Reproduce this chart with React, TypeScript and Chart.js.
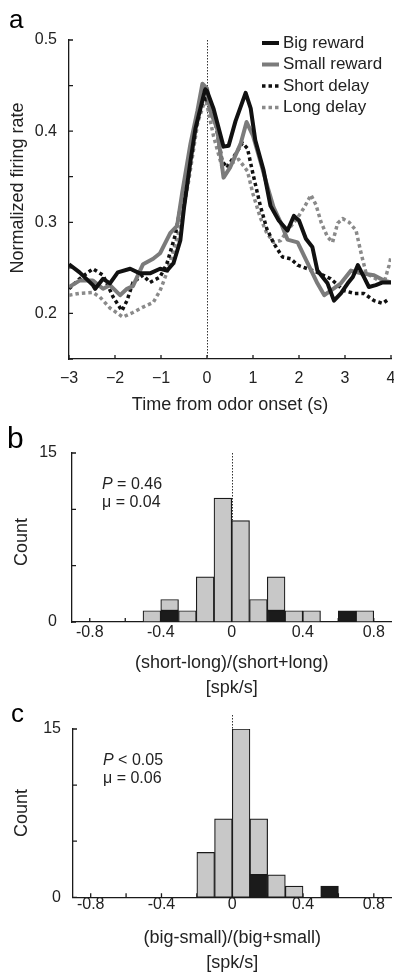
import React, { useEffect, useRef } from 'react';
import { Chart, registerables } from 'chart.js';

Chart.register(...registerables);

const FONT = "'Liberation Sans', Arial, Helvetica, sans-serif";
const INK = '#1a1a1a';

// ---------------- Panel a: firing-rate time courses ----------------
const bigRewardT = [-3.0, -2.77, -2.48, -2.43, -2.26, -2.11, -1.94, -1.67, -1.46, -1.24, -1.02, -0.87, -0.73, -0.58, -0.5, -0.36, -0.25, -0.04, 0.0, 0.14, 0.36, 0.47, 0.62, 0.84, 0.95, 1.05, 1.23, 1.38, 1.56, 1.75, 1.89, 2.0, 2.15, 2.29, 2.4, 2.62, 2.76, 2.91, 3.06, 3.17, 3.28, 3.41, 3.52, 3.67, 3.82, 4.0];
const bigRewardV = [0.254, 0.245, 0.231, 0.227, 0.238, 0.233, 0.245, 0.249, 0.244, 0.244, 0.249, 0.247, 0.255, 0.28, 0.316, 0.367, 0.403, 0.446, 0.444, 0.425, 0.383, 0.384, 0.411, 0.442, 0.425, 0.39, 0.357, 0.318, 0.302, 0.291, 0.307, 0.302, 0.282, 0.273, 0.247, 0.233, 0.214, 0.222, 0.233, 0.24, 0.253, 0.24, 0.229, 0.231, 0.234, 0.234];

const smallRewardT = [-3.0, -2.77, -2.48, -2.26, -2.11, -1.89, -1.74, -1.61, -1.39, -1.17, -1.02, -0.8, -0.65, -0.54, -0.36, -0.21, -0.1, 0.0, 0.07, 0.22, 0.36, 0.5, 0.73, 0.86, 1.0, 1.16, 1.32, 1.45, 1.6, 1.75, 1.97, 2.19, 2.4, 2.55, 2.69, 2.91, 3.13, 3.35, 3.63, 3.85, 4.0];
const smallRewardV = [0.229, 0.236, 0.236, 0.227, 0.231, 0.22, 0.227, 0.23, 0.254, 0.26, 0.266, 0.288, 0.296, 0.332, 0.386, 0.422, 0.452, 0.447, 0.422, 0.403, 0.349, 0.36, 0.386, 0.41, 0.395, 0.367, 0.338, 0.316, 0.3, 0.281, 0.278, 0.255, 0.233, 0.22, 0.225, 0.233, 0.247, 0.244, 0.242, 0.236, 0.234];

const shortDelayT = [-3.0, -2.77, -2.48, -2.26, -2.04, -1.85, -1.74, -1.61, -1.39, -1.24, -1.02, -0.87, -0.69, -0.52, -0.32, -0.19, 0.0, 0.18, 0.33, 0.44, 0.62, 0.77, 0.88, 1.0, 1.16, 1.3, 1.45, 1.64, 1.82, 1.97, 2.19, 2.4, 2.69, 2.98, 3.2, 3.41, 3.63, 3.82, 3.96];
const shortDelayV = [0.227, 0.238, 0.249, 0.242, 0.218, 0.203, 0.214, 0.234, 0.242, 0.234, 0.24, 0.255, 0.286, 0.332, 0.381, 0.425, 0.437, 0.411, 0.367, 0.36, 0.375, 0.387, 0.381, 0.353, 0.318, 0.293, 0.277, 0.262, 0.26, 0.253, 0.249, 0.245, 0.238, 0.225, 0.222, 0.222, 0.214, 0.211, 0.216];

const longDelayT = [-3.0, -2.77, -2.48, -2.33, -2.11, -1.83, -1.61, -1.39, -1.17, -1.02, -0.87, -0.73, -0.58, -0.4, -0.2, -0.03, 0.14, 0.33, 0.5, 0.69, 0.88, 1.0, 1.16, 1.3, 1.45, 1.6, 1.75, 1.97, 2.11, 2.26, 2.37, 2.48, 2.62, 2.73, 2.84, 2.95, 3.09, 3.24, 3.35, 3.46, 3.67, 3.85, 3.96, 4.0];
const longDelayV = [0.22, 0.222, 0.223, 0.218, 0.206, 0.196, 0.201, 0.207, 0.212, 0.225, 0.245, 0.269, 0.295, 0.345, 0.41, 0.436, 0.395, 0.36, 0.364, 0.369, 0.356, 0.331, 0.305, 0.288, 0.278, 0.28, 0.291, 0.305, 0.316, 0.33, 0.319, 0.3, 0.284, 0.278, 0.299, 0.304, 0.3, 0.291, 0.266, 0.244, 0.238, 0.234, 0.253, 0.262];

const seriesLabels = ['Big reward', 'Small reward', 'Short delay', 'Long delay'];
const timeTicks = [-3, -2, -1, 0, 1, 2, 3, 4];
const rateTicks = [0.15, 0.2, 0.25, 0.3, 0.35, 0.4, 0.45, 0.5];

// ---------------- Panel b: short vs long delay index ----------------
const binCentersB = [-0.45, -0.35, -0.25, -0.15, -0.05, 0.05, 0.15, 0.25, 0.35, 0.45, 0.65, 0.75];
const grayCountsB = [1, 1, 1, 4, 11, 9, 2, 3, 1, 1, 0, 1];
const blackCountsB = [0, 1, 0, 0, 0, 0, 0, 1, 0, 0, 1, 0];
const statsB = { p: '= 0.46', mu: '= 0.04' };

// ---------------- Panel c: big vs small reward index ----------------
const binCentersC = [-0.15, -0.05, 0.05, 0.15, 0.25, 0.35, 0.55];
const grayCountsC = [4, 7, 15, 5, 2, 1, 0];
const blackCountsC = [0, 0, 0, 2, 0, 0, 1];
const statsC = { p: '< 0.05', mu: '= 0.06' };

const indexTicks = [-0.8, -0.6, -0.4, -0.2, 0, 0.2, 0.4, 0.6, 0.8];
const countTicks = [0, 5, 10, 15];

// ---------------- helpers ----------------
const toPoints = (xs: number[], ys: number[]) => xs.map((x, i) => ({ x, y: ys[i] }));
const nonZero = (xs: number[], ys: number[]) => toPoints(xs, ys).filter((p) => p.y > 0);

const decorPlugin = {
  id: 'decor',
  beforeDatasetsDraw(chart: any, _a: any, o: any) {
    const { ctx, chartArea, scales } = chart;
    ctx.save();
    // zero line
    const zx = Math.round(scales.x.getPixelForValue(0)) + 0.5;
    ctx.strokeStyle = '#333';
    ctx.lineWidth = 1;
    ctx.setLineDash([1.5, 1.5]);
    ctx.beginPath();
    ctx.moveTo(zx, chartArea.top - (o.zeroExtra || 0));
    ctx.lineTo(zx, chartArea.bottom);
    ctx.stroke();
    // inward ticks
    ctx.setLineDash([]);
    ctx.strokeStyle = INK;
    ctx.lineWidth = 1.3;
    ctx.beginPath();
    for (const v of o.xTicks) {
      const px = scales.x.getPixelForValue(v);
      ctx.moveTo(px, chartArea.bottom);
      ctx.lineTo(px, chartArea.bottom - o.tickLen);
    }
    for (const v of o.yTicks) {
      const py = scales.y.getPixelForValue(v);
      ctx.moveTo(chartArea.left, py);
      ctx.lineTo(chartArea.left + o.tickLen, py);
    }
    ctx.stroke();
    ctx.restore();
  },
  afterDraw(chart: any, _a: any, o: any) {
    const { ctx, chartArea } = chart;
    ctx.save();
    ctx.fillStyle = '#222';
    // y title
    ctx.font = `18px ${FONT}`;
    ctx.textAlign = 'center';
    ctx.textBaseline = 'middle';
    ctx.save();
    ctx.translate(o.yTitle.x, o.yTitle.y);
    ctx.rotate(-Math.PI / 2);
    ctx.fillText(o.yTitle.text, 0, 0);
    ctx.restore();
    // panel letter
    ctx.fillStyle = '#000';
    ctx.font = `${o.letter.size}px ${FONT}`;
    ctx.textAlign = 'left';
    ctx.textBaseline = 'alphabetic';
    ctx.fillText(o.letter.text, o.letter.x, o.letter.y);
    ctx.fillStyle = '#222';
    // legend
    if (o.legend) {
      const ds = chart.data.datasets;
      ctx.font = `17px ${FONT}`;
      ctx.textBaseline = 'middle';
      ds.forEach((d: any, i: number) => {
        const y = chartArea.top + o.legend.top + i * o.legend.step;
        const x0 = chartArea.right - o.legend.fromRight;
        ctx.save();
        ctx.strokeStyle = d.borderColor;
        ctx.lineWidth = d.borderWidth;
        ctx.setLineDash(d.borderDash || []);
        ctx.beginPath();
        ctx.moveTo(x0, y);
        ctx.lineTo(x0 + 17, y);
        ctx.stroke();
        ctx.restore();
        ctx.fillText(d.label, x0 + 21, y);
      });
    }
    // stats
    if (o.stats) {
      const x = chartArea.left + 30;
      const y1 = chartArea.top + 32;
      const y2 = chartArea.top + 50;
      ctx.textBaseline = 'middle';
      ctx.textAlign = 'left';
      ctx.font = `italic 16px ${FONT}`;
      ctx.fillText('P', x, y1);
      const w = ctx.measureText('P').width;
      ctx.font = `16px ${FONT}`;
      ctx.fillText(' ' + o.stats.p, x + w, y1);
      ctx.fillText('\u03bc ' + o.stats.mu, x, y2);
    }
    ctx.restore();
  },
};

const tickFont = { family: FONT, size: 16 };
const setTicks = (vals: number[]) => (s: any) => {
  s.ticks = vals.map((value) => ({ value }));
};

function makeA(canvas: HTMLCanvasElement) {
  const mk = (label: string, t: number[], v: number[], color: string, width: number, dash: number[]) => ({
    label,
    data: toPoints(t, v),
    borderColor: color,
    backgroundColor: color,
    borderWidth: width,
    borderDash: dash,
    borderJoinStyle: 'round' as const,
    pointRadius: 0,
    tension: 0,
    fill: false,
  });
  return new Chart(canvas, {
    type: 'line',
    data: {
      datasets: [
        mk(seriesLabels[0], bigRewardT, bigRewardV, '#111111', 4, []),
        mk(seriesLabels[1], smallRewardT, smallRewardV, '#7b7b7b', 4, []),
        mk(seriesLabels[2], shortDelayT, shortDelayV, '#111111', 3.5, [3.5, 3]),
        mk(seriesLabels[3], longDelayT, longDelayV, '#8a8a8a', 3.5, [3.5, 3]),
      ],
    },
    options: {
      animation: false,
      responsive: false,
      devicePixelRatio: 1,
      events: [],
      layout: { padding: { top: 40, right: 3, left: 0, bottom: 0 } },
      plugins: {
        legend: { display: false },
        tooltip: { enabled: false },
        decor: {
          xTicks: timeTicks,
          yTicks: rateTicks,
          tickLen: 4,
          zeroExtra: 0,
          yTitle: { text: 'Normalized firing rate', x: 18, y: 188 },
          letter: { text: 'a', x: 9, y: 28, size: 26 },
          legend: { top: 3, step: 21.5, fromRight: 129 },
        },
      } as any,
      scales: {
        x: {
          type: 'linear',
          min: -3,
          max: 4,
          grid: { display: false, drawTicks: false },
          border: { display: true, color: INK, width: 1.3 },
          afterBuildTicks: setTicks(timeTicks),
          ticks: {
            autoSkip: false,
            maxRotation: 0,
            padding: 10,
            color: '#222',
            font: tickFont,
            callback: (v: any) => (v < 0 ? '\u2212' + Math.abs(v) : String(v)),
          },
          title: {
            display: true,
            text: 'Time from odor onset (s)',
            color: '#222',
            font: { family: FONT, size: 18, lineHeight: 1.2 },
            padding: { top: 0, bottom: 4 },
          },
          afterFit: (s: any) => {
            s.height = 61;
            s.paddingLeft = 0;
            s.paddingRight = 0;
          },
        },
        y: {
          min: 0.15,
          max: 0.5,
          grid: { display: false, drawTicks: false },
          border: { display: true, color: INK, width: 1.3 },
          afterBuildTicks: setTicks(rateTicks),
          ticks: {
            autoSkip: false,
            padding: 12,
            color: '#222',
            font: tickFont,
            callback: (v: any) => {
              const r = Math.round(v * 100);
              return r % 10 === 0 && r >= 20 ? (r / 100).toFixed(1) : '';
            },
          },
          afterFit: (s: any) => {
            s.width = 69;
          },
        },
      },
    },
    plugins: [decorPlugin as any],
  });
}

function makeHist(
  canvas: HTMLCanvasElement,
  centers: number[],
  grays: number[],
  blacks: number[],
  opts: any
) {
  return new Chart(canvas, {
    type: 'bar',
    data: {
      datasets: [
        {
          label: 'black',
          data: nonZero(centers, blacks),
          backgroundColor: '#1b1b1b',
          borderColor: INK,
          borderWidth: 1.2,
          borderSkipped: false,
          barPercentage: 1,
          categoryPercentage: 1,
        },
        {
          label: 'gray',
          data: nonZero(centers, grays),
          backgroundColor: '#c8c8c8',
          borderColor: INK,
          borderWidth: 1.2,
          borderSkipped: false,
          barPercentage: 1,
          categoryPercentage: 1,
        },
      ],
    },
    options: {
      animation: false,
      responsive: false,
      devicePixelRatio: 1,
      events: [],
      layout: { padding: { top: opts.padTop, right: 2.5, left: 0, bottom: 0 } },
      plugins: {
        legend: { display: false },
        tooltip: { enabled: false },
        decor: {
          xTicks: indexTicks,
          yTicks: countTicks,
          tickLen: 4,
          zeroExtra: opts.zeroExtra,
          yTitle: { text: 'Count', x: 22, y: opts.countY },
          letter: opts.letter,
          stats: opts.stats,
        },
      } as any,
      scales: {
        x: {
          type: 'linear',
          min: -0.9,
          max: 0.9,
          offset: false,
          stacked: true,
          grid: { display: false, drawTicks: false, offset: false },
          border: { display: true, color: INK, width: 1.3 },
          afterBuildTicks: setTicks(indexTicks),
          ticks: {
            autoSkip: false,
            maxRotation: 0,
            padding: opts.xPad,
            color: '#222',
            font: tickFont,
            callback: (v: any) => {
              const r = Math.round(v * 10);
              if (Math.abs(r) > 8 || r % 4 !== 0) return '';
              return r === 0 ? '0' : (r / 10).toFixed(1);
            },
          },
          title: {
            display: true,
            text: [opts.title, '[spk/s]'],
            color: '#222',
            font: { family: FONT, size: 18, lineHeight: 1.4 },
            padding: { top: 0, bottom: 0 },
          },
          afterFit: (s: any) => {
            s.height = opts.xHeight;
            s.paddingLeft = 0;
            s.paddingRight = 0;
          },
        },
        y: {
          min: 0,
          max: 15,
          stacked: true,
          grid: { display: false, drawTicks: false },
          border: { display: true, color: INK, width: 1.3 },
          afterBuildTicks: setTicks(countTicks),
          ticks: {
            autoSkip: false,
            padding: opts.yPad,
            color: '#222',
            font: tickFont,
            callback: (v: any) => (v === 0 || v === 15 ? String(v) : ''),
          },
          afterFit: (s: any) => {
            s.width = opts.yWidth;
          },
        },
      },
    },
    plugins: [decorPlugin as any],
  });
}

function ChartCanvas({ top, height, make }: { top: number; height: number; make: (c: HTMLCanvasElement) => Chart }) {
  const ref = useRef<HTMLCanvasElement>(null);
  useEffect(() => {
    const chart = make(ref.current as HTMLCanvasElement);
    return () => chart.destroy();
  }, []);
  return (
    <canvas
      ref={ref}
      width={394}
      height={height}
      style={{ position: 'absolute', left: 0, top, width: 394, height, display: 'block' }}
    />
  );
}

export default function App() {
  return (
    <div style={{ position: 'fixed', left: 0, top: 0, width: 394, height: 976, background: '#fff', overflow: 'hidden' }}>
      <ChartCanvas top={0} height={420} make={makeA} />
      <ChartCanvas
        top={420}
        height={281}
        make={(c) =>
          makeHist(c, binCentersB, grayCountsB, blackCountsB, {
            title: '(short-long)/(short+long)',
            stats: statsB,
            letter: { text: 'b', x: 7, y: 28, size: 30 },
            padTop: 33,
            xHeight: 79,
            yWidth: 72,
            yPad: 15,
            xPad: 1,
            zeroExtra: 0,
            countY: 122,
          })
        }
      />
      <ChartCanvas
        top={703}
        height={273}
        make={(c) =>
          makeHist(c, binCentersC, grayCountsC, blackCountsC, {
            title: '(big-small)/(big+small)',
            stats: statsC,
            letter: { text: 'c', x: 11, y: 19, size: 26 },
            padTop: 26,
            xHeight: 78.7,
            yWidth: 73,
            yPad: 12,
            xPad: -2,
            zeroExtra: 14,
            countY: 110,
          })
        }
      />
    </div>
  );
}
